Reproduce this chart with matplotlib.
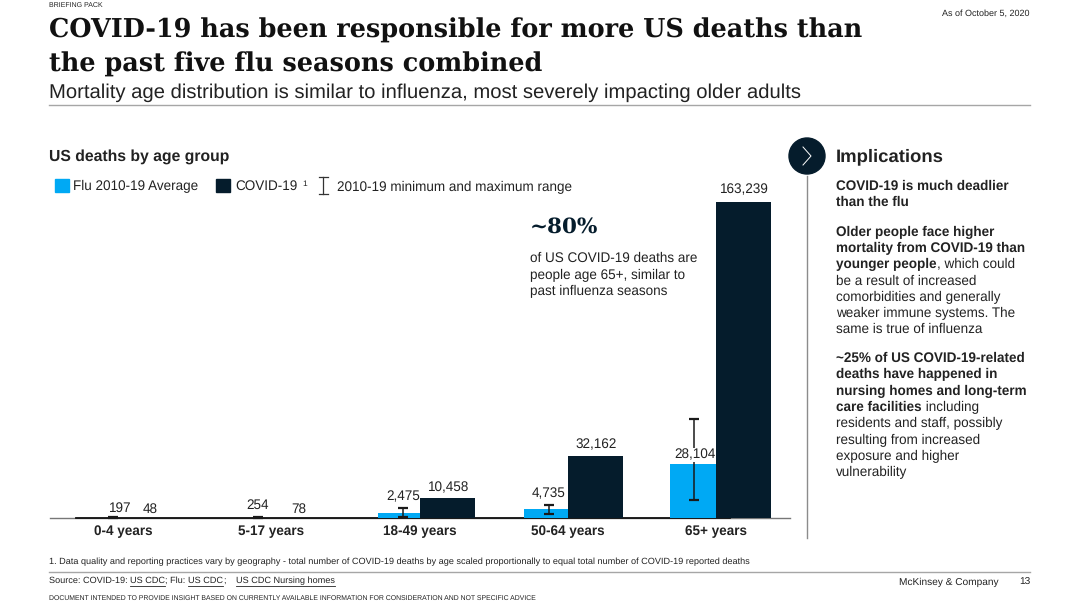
#!/usr/bin/env python3
"""US deaths by age group slide - flu vs COVID-19 bars with text panel."""
import matplotlib
matplotlib.use("Agg")
import matplotlib.pyplot as plt
import numpy as np
from matplotlib.lines import Line2D
from matplotlib.patches import Circle, Rectangle

plt.rcParams["font.family"] = ["Liberation Sans", "DejaVu Sans"]
plt.rcParams["text.hinting"] = "none"

W, H = 1080, 607
BLUE = "#00A9F4"
NAVY = "#051C2C"
INK = "#222222"
RULE = "#A6A6A6"

# ===== Data =====
age_groups = ["0-4 years", "5-17 years", "18-49 years", "50-64 years", "65+ years"]
flu_avg = [197, 254, 2475, 4735, 28104]
covid = [48, 78, 10458, 32162, 163239]
flu_min = [60, 90, 500, 2000, 9300]
flu_max = [420, 480, 5000, 6700, 51000]

# ===== Layout (pixels) =====
group_x = [123.5, 271.5, 419.5, 567.5, 715.5]
flu_w = [45, 45, 42, 44, 46]
covid_w = 55
whisker_x = [112.5, 258, 403, 549, 694]
flu_label_pos = [(120, 508), (258, 505), (403, 497), (549, 494), (694.5, 455)]
covid_label_pos = [(150, 509), (299, 509), (449, 488), (596, 445), (744, 190)]

fig = plt.figure(figsize=(W / 100, H / 100), dpi=100, facecolor="white")


def fx(x):
    return x / W


def fy(y):
    return 1 - y / H


def txt(x, y, s, px, **kw):
    kw.setdefault("color", INK)
    kw.setdefault("va", "center")
    return fig.text(fx(x), fy(y), s, fontsize=px * 0.72, **kw)


def hline(x0, x1, y, color=RULE, lw=1.0):
    fig.add_artist(Line2D([fx(x0), fx(x1)], [fy(y), fy(y)], color=color, lw=lw))


def text_end(t):
    bb = t.get_window_extent(fig.canvas.get_renderer())
    return bb.x1


def link(x, y, s, px):
    t = txt(x, y, s, px)
    hline(x, text_end(t), y + px * 0.55, color=INK, lw=0.6)
    return t


# ===== Chart =====
base_y, top_y = 518, 178
px_per_death = 316 / max(covid)
ax = fig.add_axes([fx(50), fy(base_y), fx(740), (base_y - top_y) / H])
ax.set_zorder(3)
ax.set_xlim(50, 790)
ax.set_ylim(0, (base_y - top_y) / px_per_death)
ax.patch.set_alpha(0)
for s in ax.spines.values():
    s.set_visible(False)
ax.set_yticks([])
ax.set_xticks(group_x, age_groups, fontweight="bold", fontsize=13.5 * 0.72, color=INK)
ax.tick_params(axis="x", length=0, pad=5)

centres = np.array(group_x)
ax.bar(centres - np.array(flu_w), flu_avg, width=flu_w, align="edge", color=BLUE, zorder=2)
ax.bar(centres, covid, width=covid_w, align="edge", color=NAVY, zorder=2)

flu_arr, lo, hi = np.array(flu_avg), np.array(flu_min), np.array(flu_max)
ax.errorbar(whisker_x, flu_avg, yerr=[flu_arr - lo, hi - flu_arr], fmt="none",
            ecolor="#1A1A1A", elinewidth=1.1, capsize=3.4, capthick=1.6, zorder=3, clip_on=False)

# axis line, grey over the full width, black under the groups
hline(50, 790, base_y + 0.3, color="#777777", lw=1.0)
hline(76, 730, base_y + 0.3, color="#111111", lw=1.3)

for v, (x, y) in zip(flu_avg, flu_label_pos):
    t = txt(x, y, f"{v:,}", 13.5, ha="center", zorder=5)
    if v == max(flu_avg):
        t.set_bbox(dict(facecolor="white", edgecolor="none", pad=0.6))
for v, (x, y) in zip(covid, covid_label_pos):
    txt(x, y, f"{v:,}", 13.5, ha="center", zorder=5)

# ===== Legend =====
fig.add_artist(Rectangle((fx(55), fy(192)), 14 / W, 13 / H, color=BLUE, transform=fig.transFigure))
txt(73, 186.5, "Flu 2010-19 Average", 13.5)
fig.add_artist(Rectangle((fx(216), fy(192)), 14 / W, 13 / H, color=NAVY, transform=fig.transFigure))
txt(235, 186.5, "COVID-19", 13.5)
txt(302, 184, "1", 8.5)
fig.add_artist(Line2D([fx(323), fx(323)], [fy(177), fy(194)], color="#333333", lw=0.9))
hline(319, 328, 177, color="#333333", lw=0.9)
hline(319, 328, 194, color="#333333", lw=0.9)
txt(337, 187.5, "2010-19 minimum and maximum range", 13.5)

# ===== Header / footer =====
txt(49, 5.5, "BRIEFING PACK", 7)
txt(1030, 14, "As of October 5, 2020", 9.0, ha="right")
txt(49, 30.5, "COVID-19 has been responsible for more US deaths than", 25.55,
    family="DejaVu Serif", fontweight="bold", color="#111111")
txt(49, 64.5, "the past five flu seasons combined", 25.55,
    family="DejaVu Serif", fontweight="bold", color="#111111")
txt(49, 92.5, "Mortality age distribution is similar to influenza, most severely impacting older adults",
    20.3)
hline(49, 1030, 104.5)

txt(49, 157, "US deaths by age group", 15.7, fontweight="bold")

txt(530, 227, "~80%", 21.5, family="DejaVu Serif", fontweight="bold", color=NAVY)
for y, line in zip([258, 275, 291], ["of US COVID-19 deaths are", "people age 65+, similar to",
                                     "past influenza seasons"]):
    txt(530, y, line, 13.5)

txt(49, 562, "1. Data quality and reporting practices vary by geography - total number of COVID-19 "
    "deaths by age scaled proportionally to equal total number of COVID-19 reported deaths", 9.13)
hline(49, 1030, 571.5)
t = txt(49, 581, "Source: COVID-19: ", 9.1)
t = link(text_end(t), 581, "US CDC", 9.1)
t = txt(text_end(t), 581, "; Flu: ", 9.1)
t = link(text_end(t), 581, "US CDC", 9.1)
t = txt(text_end(t), 581, ";", 9.1)
link(236, 581, "US CDC Nursing homes", 9.1)
txt(899, 582, "McKinsey & Company", 10.1)
txt(1030, 582, "13", 10.1, ha="right")
txt(49, 598, "DOCUMENT INTENDED TO PROVIDE INSIGHT BASED ON CURRENTLY AVAILABLE INFORMATION FOR "
    "CONSIDERATION AND NOT SPECIFIC ADVICE", 6.87)

# ===== Implications panel =====
fig.add_artist(Line2D([fx(807), fx(807)], [fy(176), fy(538)], color="#8C8C8C", lw=1.0))
fig.add_artist(Circle((807, H - 156), 18, color=NAVY, transform=None))
fig.add_artist(Line2D([fx(803), fx(811), fx(803)], [fy(147), fy(156), fy(165)], color="white", lw=0.7))
txt(836, 157, "Implications", 18.5, fontweight="bold")

panel_lines = [
    (186, "COVID-19 is much deadlier", ""),
    (202, "than the flu", ""),
    (232, "Older people face higher", ""),
    (248, "mortality from COVID-19 than", ""),
    (264, "younger people", ", which could"),
    (281, "", "be a result of increased"),
    (297, "", "comorbidities and generally"),
    (313, "", "weaker immune systems. The"),
    (329, "", "same is true of influenza"),
    (358, "~25% of US COVID-19-related", ""),
    (374, "deaths have happened in", ""),
    (391, "nursing homes and long-term", ""),
    (407, "care facilities", " including"),
    (423, "", "residents and staff, possibly"),
    (440, "", "resulting from increased"),
    (456, "", "exposure and higher"),
    (472, "", "vulnerability"),
]
for y, bold, plain in panel_lines:
    x = 836
    if bold:
        t = txt(x, y, bold, 13.5, fontweight="bold")
        x = text_end(t)
    if plain:
        txt(x, y, plain, 13.5)

fig.savefig("out.png", dpi=100)
